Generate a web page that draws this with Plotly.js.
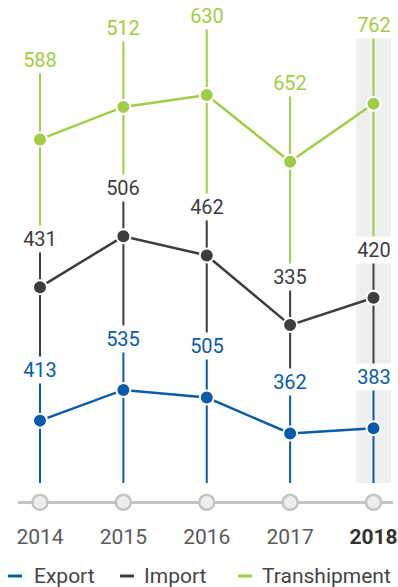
<!DOCTYPE html>
<html><head><meta charset="utf-8">
<script src="https://cdn.plot.ly/plotly-3.0.1.min.js"></script>
<style>body{margin:0;padding:0;background:#fff}#chart{width:398px;height:587px}</style>
</head><body><div id="chart"></div>
<script>
const years = [2014, 2015, 2016, 2017, 2018];
const tickLabels = ['2014', '2015', '2016', '2017', '2018'];
const exportVals = [413, 535, 505, 362, 383];
const importVals = [431, 506, 462, 335, 420];
const transVals = [588, 512, 630, 652, 762];
const seriesNames = ['Export', 'Import', 'Transhipment'];

const W = 398, H = 587;
const FONT = 'Roboto, "DejaVu Sans", sans-serif';
const importCum = importVals.map((v, i) => v + exportVals[i]);
const transCum = transVals.map((v, i) => v + importCum[i]);

// per-series vertical scale (px per unit, pixel of zero); overlay order y < y2 < y3
const scales = {
  y:  {s: 0.2687, zero: 524.2},  // transhipment (bottom layer)
  y2: {s: 0.2581, zero: 505},    // import
  y3: {s: 0.2515, zero: 524.5}   // export (top layer)
};
function rangeOf(sc) { const r0 = (sc.zero - H) / sc.s; return [r0, r0 + H / sc.s]; }
function pxToVal(px, sc) { return (sc.zero - px) / sc.s; }
function valToPx(v, sc) { return sc.zero - sc.s * v; }

const series = [
  {name: seriesNames[2], axis: 'y',  color: '#9fcd46', labels: transVals, plot: transCum, shift: 79},
  {name: seriesNames[1], axis: 'y2', color: '#3d3d3f', labels: importVals, plot: importCum, shift: 48},
  {name: seriesNames[0], axis: 'y3', color: '#0a5ba9', labels: exportVals, plot: exportVals, shift: 51}
];
function labelPx(sr, i) { return valToPx(sr.plot[i], scales[sr.axis]) - sr.shift; }

const BOTTOM_PX = 483, AXIS_PX = 502.3;
const traces = [];
series.forEach((sr, k) => {
  const sc = scales[sr.axis];
  const xs = [], ys = [];
  years.forEach((yr, i) => {
    const endPx = k < series.length - 1 ? labelPx(series[k + 1], i) : BOTTOM_PX;
    xs.push(yr, yr, null);
    ys.push(pxToVal(labelPx(sr, i), sc), pxToVal(endPx, sc), null);
  });
  // vertical drop lines
  traces.push({x: xs, y: ys, yaxis: sr.axis, mode: 'lines', line: {color: sr.color, width: 2},
    hoverinfo: 'skip', showlegend: false});
  // series line + markers
  traces.push({x: years, y: sr.plot, yaxis: sr.axis, mode: 'lines+markers', name: sr.name,
    line: {color: sr.color, width: 2.5},
    marker: {size: 14, color: sr.color, line: {color: '#ffffff', width: 2}},
    cliponaxis: false, showlegend: false});
});
// baseline tick circles
traces.push({x: years, y: years.map(() => pxToVal(AXIS_PX, scales.y3)), yaxis: 'y3', mode: 'markers',
  marker: {size: 15, color: '#eeeeee', line: {color: '#c4c4c4', width: 2.5}},
  cliponaxis: false, hoverinfo: 'skip', showlegend: false});

const annotations = [];
series.forEach(sr => {
  years.forEach((yr, i) => {
    annotations.push({x: yr, y: sr.plot[i], xref: 'x', yref: sr.axis, yshift: sr.shift,
      text: String(sr.labels[i]), showarrow: false, bgcolor: '#ffffff', borderpad: 0,
      width: 36, height: 26, font: {family: FONT, size: 20, color: sr.color}});
  });
});
// legend
const legendPos = [{dx0: 8, tx: 32}, {dx0: 120, tx: 142}, {dx0: 238, tx: 260}];
const LEG_Y = 576;
const shapes = [];
const legendOrder = [series[2], series[1], series[0]];
legendOrder.forEach((sr, k) => {
  shapes.push({type: 'line', xref: 'paper', yref: 'paper',
    x0: legendPos[k].dx0 / W, x1: (legendPos[k].dx0 + 14) / W,
    y0: (H - LEG_Y) / H, y1: (H - LEG_Y) / H, line: {color: sr.color, width: 3}});
  annotations.push({xref: 'paper', yref: 'paper', x: legendPos[k].tx / W, y: (H - LEG_Y) / H,
    xanchor: 'left', yanchor: 'middle', text: sr.name, showarrow: false,
    font: {family: FONT, size: 21, color: '#444444'}});
});
// highlight band behind last year
shapes.push({type: 'rect', xref: 'x', yref: 'paper', layer: 'below',
  x0: years[4] - 0.21, x1: years[4] + 0.21, y0: (H - BOTTOM_PX) / H, y1: (H - 33) / H,
  fillcolor: '#efefef', line: {width: 0}});

const xd0 = 18 / W, xd1 = 393 / W;
const pxPerYear = 83.375;
const xr0 = years[0] - (40 - 18) / pxPerYear;
const xr1 = xr0 + 375 / pxPerYear;

const tickText = tickLabels.map((t, i) => i === tickLabels.length - 1
  ? '<span style="color:#333333"><b>' + t + '</b></span>' : t);

const layout = {
  width: W, height: H, margin: {l: 0, r: 0, t: 0, b: 0},
  paper_bgcolor: '#ffffff', plot_bgcolor: 'rgba(0,0,0,0)',
  font: {family: FONT},
  showlegend: false,
  xaxis: {domain: [xd0, xd1], range: [xr0, xr1], anchor: 'free', position: (H - AXIS_PX) / H,
    showline: true, linecolor: '#c4c4c4', linewidth: 3, layer: 'below traces',
    showgrid: false, zeroline: false, tickvals: years, ticktext: tickText,
    ticks: 'outside', ticklen: 14, tickcolor: 'rgba(0,0,0,0)',
    tickfont: {family: FONT, size: 21, color: '#5a5a5a'}, fixedrange: true},
  yaxis: {range: rangeOf(scales.y), visible: false, domain: [0, 1]},
  yaxis2: {range: rangeOf(scales.y2), visible: false, overlaying: 'y'},
  yaxis3: {range: rangeOf(scales.y3), visible: false, overlaying: 'y'},
  shapes: shapes, annotations: annotations
};
Plotly.newPlot('chart', traces, layout, {displayModeBar: false, staticPlot: true});
</script></body></html>
